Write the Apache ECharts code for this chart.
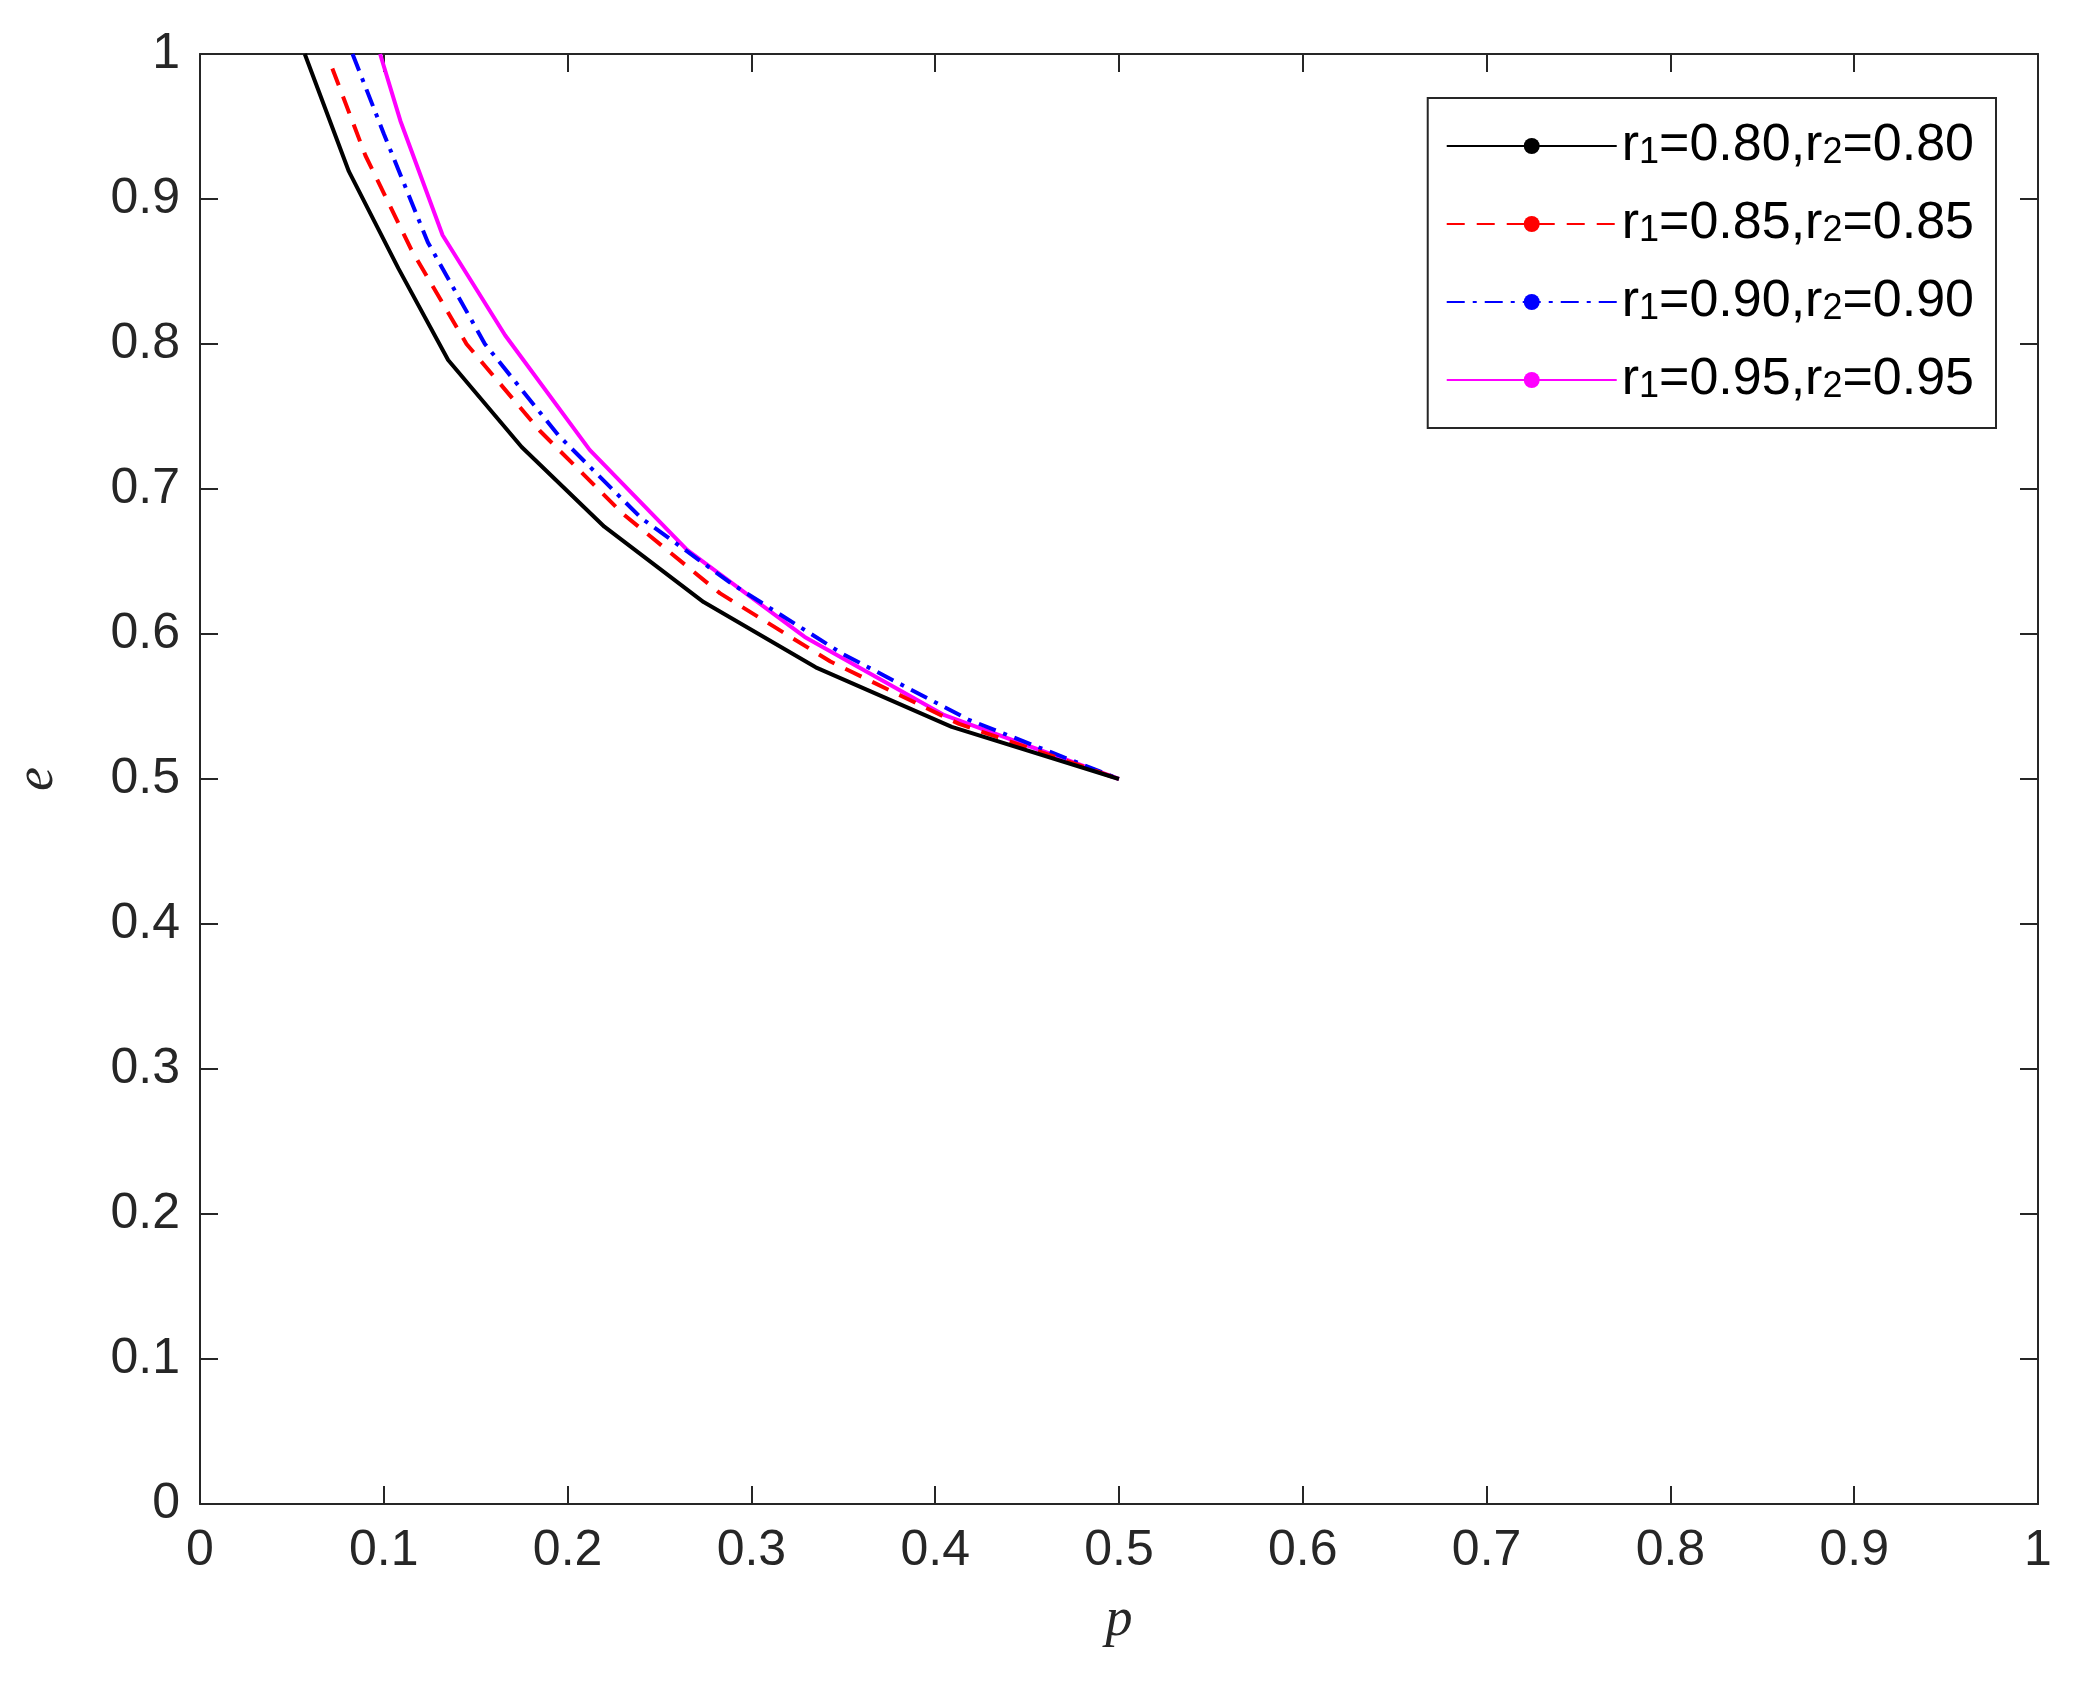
<!DOCTYPE html>
<html lang="en">
<head>
<meta charset="UTF-8" />
<title>e vs p</title>
<script src="https://cdn.jsdelivr.net/npm/echarts@6/dist/echarts.min.js"></script>
<style>
  html, body { margin: 0; background: #fff; }
  #main { width: 2100px; height: 1700px; }
</style>
</head>
<body>
<div id="main"></div>
<script>
  // values: [p, e]
  const seriesNames = ['0.80', '0.85', '0.90', '0.95'];
  const r80 = [[0.057,1.0],[0.081,0.919],[0.108,0.852],[0.135,0.789],[0.175,0.729],[0.22,0.674],[0.274,0.622],[0.335,0.577],[0.409,0.536],[0.5,0.5]];
  const r85 = [[0.072,0.99],[0.09,0.93],[0.115,0.865],[0.145,0.80],[0.185,0.74],[0.23,0.683],[0.283,0.628],[0.343,0.581],[0.413,0.538],[0.5,0.5]];
  const r90 = [[0.083,1.0],[0.1,0.945],[0.124,0.87],[0.155,0.80],[0.195,0.737],[0.24,0.68],[0.29,0.634],[0.35,0.586],[0.418,0.541],[0.5,0.5]];
  const r95 = [[0.098,1.0],[0.109,0.954],[0.132,0.875],[0.166,0.806],[0.212,0.727],[0.265,0.658],[0.329,0.598],[0.405,0.544],[0.5,0.5]];
  const colors = ['#000000', '#ff0000', '#0000ff', '#ff00ff'];
  const dashes = ['solid', [18, 12], [18, 8, 4, 8], 'solid'];
  const dataSets = [r80, r85, r90, r95];

  const font = 'Liberation Sans, Arial, sans-serif';
  const name = v => 'r{s|1}=' + v + ',r{s|2}=' + v;

  const axisCommon = {
    min: 0, max: 1, interval: 0.1,
    splitLine: { show: false },
    axisLine: { show: true, onZero: false, lineStyle: { color: '#262626', width: 2 } },
    axisTick: { show: true, inside: true, length: 18, lineStyle: { color: '#262626', width: 2 } }
  };
  const label = {
    fontSize: 50, color: '#262626', fontFamily: font,
    formatter: v => (v === 0 || v === 1) ? String(v) : v.toFixed(1)
  };

  const chart = echarts.init(document.getElementById('main'));
  chart.setOption({
    animation: false,
    backgroundColor: '#fff',
    grid: { left: 200, right: 62, top: 54, bottom: 196 },
    legend: {
      right: 104, top: 98,
      orient: 'vertical',
      padding: [22, 22, 22, 18],
      itemGap: 26,
      itemWidth: 170, itemHeight: 20,
      borderColor: '#262626', borderWidth: 2,
      backgroundColor: '#fff',
      formatter: n => name(n),
      textStyle: {
        fontSize: 52, color: '#000', fontFamily: font,
        rich: { s: { fontSize: 36, fontFamily: font, padding: [14, 0, 0, 0] } }
      },
      data: seriesNames
    },
    xAxis: [
      Object.assign({ type: 'value', position: 'bottom', name: 'p', nameLocation: 'middle', nameGap: 90,
        nameTextStyle: { fontSize: 54, fontStyle: 'italic', fontFamily: 'Liberation Serif, serif', color: '#262626' },
        axisLabel: Object.assign({ margin: 22 }, label) }, axisCommon),
      Object.assign({ type: 'value', position: 'top', axisLabel: { show: false } }, axisCommon)
    ],
    yAxis: [
      Object.assign({ type: 'value', position: 'left', name: 'e', nameLocation: 'middle', nameGap: 135,
        nameRotate: 90,
        nameTextStyle: { fontSize: 54, fontStyle: 'italic', fontFamily: 'Liberation Serif, serif', color: '#262626' },
        axisLabel: Object.assign({ margin: 20 }, label) }, axisCommon),
      Object.assign({ type: 'value', position: 'right', axisLabel: { show: false } }, axisCommon)
    ],
    series: dataSets.map((d, i) => ({
      name: seriesNames[i],
      type: 'line',
      data: d,
      showSymbol: false,
      symbol: 'none',
      color: colors[i],
      lineStyle: { color: colors[i], width: 4, type: dashes[i] },
      z: 10 - i
    }))
  });
</script>
</body>
</html>
